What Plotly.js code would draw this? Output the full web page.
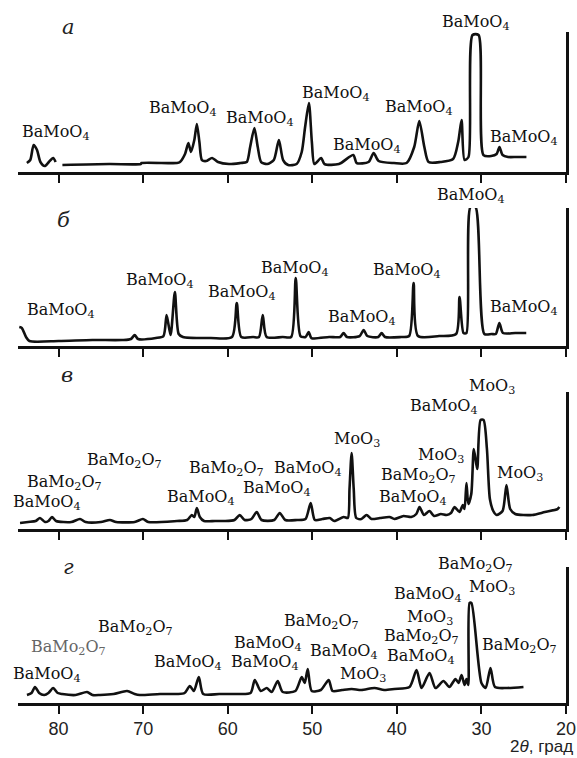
<!DOCTYPE html>
<html>
<head>
<meta charset="utf-8">
<script src="https://cdn.plot.ly/plotly-3.0.1.min.js"></script>
<style>html,body{margin:0;padding:0;background:#fff}#chart{width:577px;height:758px}</style>
</head>
<body>
<div id="chart"></div>
<script>
// ---- panel а ----
const thetaA = [83.75,83.35,82.95,82.55,82.15,81.65,81.15,80.65,80.35,80.0,79.55,74.0,70.3,70.2,66.0,65.65,65.05,64.65,64.35,63.95,63.65,63.35,63.05,62.55,61.85,61.15,59.85,58.5,57.75,57.35,56.85,56.45,56.05,55.35,54.55,53.95,53.45,52.85,51.85,51.25,50.85,50.4,50.05,49.75,48.95,48.55,46.85,45.15,44.75,43.35,42.75,42.15,40.35,38.85,37.95,37.35,36.75,36.25,34.85,33.35,32.75,32.35,32.0,31.53,31.05,30.34,29.76,28.85,28.2,27.87,27.5,26.85,25.85,24.68];
const intensA = [9,12,27,22,10,6,10,14,10,null,7,8,8,9,9,10,18,29,20,32,48,30,12,11,14,10,8,9,10,25,44,25,10,8,12,32,12,7,8,20,45,69,30,8,14,8,8,17,9,10,19,11,9,9,25,51,25,10,10,13,30,52,12,15,137,137,17,16,18,25,17,15,15,15];
const labA = ["BaMoO<sub>4</sub>","BaMoO<sub>4</sub>","BaMoO<sub>4</sub>","BaMoO<sub>4</sub>","BaMoO<sub>4</sub>","BaMoO<sub>4</sub>","BaMoO<sub>4</sub>","BaMoO<sub>4</sub>"];
const labAx = [80.31,65.31,56.21,47.24,43.58,37.43,30.7,24.91];
const labAy = [40,64,54,79,27,65,149,35];

// ---- panel б ----
const thetaB = [84.65,84.35,83.85,83.45,80.0,76.0,72.5,71.45,71.0,70.6,68.5,67.6,67.23,66.76,66.25,65.8,65.3,62.0,59.5,58.93,58.4,57.0,56.3,55.86,55.4,53.5,52.5,51.96,51.4,50.8,50.43,50.1,48.0,46.7,46.3,45.9,44.4,43.93,43.5,42.2,41.8,41.4,39.5,38.55,38.02,37.5,35.0,33.0,32.59,32.12,31.77,31.3,30.7,29.65,28.8,28.3,27.88,27.45,26.0,24.7];
const intensB = [19,18,9,5,5,6,6,7,11,7,8,10,31,11,54,12,9,8,9,43,9,9,9,31,9,9,9,68,10,9,14,8,9,9,13,9,10,16,10,9,13,9,9,10,63,10,10,12,49,13,13,139,139,12,12,12,23,13,13,13];
const labB = ["BaMoO<sub>4</sub>","BaMoO<sub>4</sub>","BaMoO<sub>4</sub>","BaMoO<sub>4</sub>","BaMoO<sub>4</sub>","BaMoO<sub>4</sub>","BaMoO<sub>4</sub>","BaMoO<sub>4</sub>"];
const labBx = [79.71,68.02,58.34,52.08,44.17,38.85,31.18,24.91];
const labBy = [36,66,54,78,29,76,151,39];

// ---- panel в ----
const thetaC = [84.56,83.6,82.7,82.2,81.6,81.2,80.78,80.3,78.5,77.47,76.8,75.0,73.93,73.2,71.0,70.03,69.4,66.0,64.8,64.24,63.95,63.65,63.3,62.8,61.5,60.5,59.2,58.58,58.0,57.2,56.57,56.0,54.5,53.85,53.2,51.8,50.8,50.19,49.7,48.8,47.94,47.4,46.29,45.8,45.6,45.35,45.1,44.8,44.2,43.58,43.0,42.0,40.86,40.3,39.21,38.3,37.7,37.32,36.8,36.14,35.6,34.8,34.13,33.6,33.18,32.6,32.2,32.0,31.77,31.55,31.2,30.9,30.5,30.1,29.75,29.35,29.0,28.6,28.2,27.5,27.04,26.6,26.0,24.0,22.5,21.0,20.78];
const intensC = [6,7,8,11,7,8,12,8,7,10,7,7,9,7,7,10,7,8,9,14,12,21,12,8,8,8,9,14,9,10,17,9,9,16,9,9,10,26,9,10,11,8,12,11,40,76,40,11,10,14,10,11,12,10,13,12,15,22,14,18,13,15,14,16,22,17,24,20,46,25,35,80,60,109,109,80,30,18,14,18,44,20,15,14,17,20,22];
const labC = ["BaMoO<sub>4</sub>","BaMo<sub>2</sub>O<sub>7</sub>","BaMo<sub>2</sub>O<sub>7</sub>","BaMoO<sub>4</sub>","BaMo<sub>2</sub>O<sub>7</sub>","BaMoO<sub>4</sub>","BaMoO<sub>4</sub>","MoO<sub>3</sub>","MoO<sub>3</sub>","BaMo<sub>2</sub>O<sub>7</sub>","BaMoO<sub>4</sub>","BaMoO<sub>4</sub>","MoO<sub>3</sub>","MoO<sub>3</sub>"];
const labCx = [81.36,79.36,72.15,63.18,60.11,54.2,50.54,44.76,34.84,37.43,38.14,34.37,28.7,25.39];
const labCy = [27,47,69,32,61,41,61,89,73,54,32,122,142,56];

// ---- panel г ----
const thetaD = [83.74,83.2,82.79,82.3,81.7,81.2,80.64,80.1,79.58,78.0,76.63,76.0,75.1,73.5,71.9,71.0,70.4,68.0,66.0,65.1,64.48,64.0,63.42,62.9,61.0,59.0,57.3,56.8,56.1,55.38,54.8,54.09,53.5,52.0,51.25,50.9,50.54,50.07,49.0,48.06,47.6,46.5,45.35,44.2,42.64,41.5,40.3,38.5,37.67,37.08,36.14,35.43,34.49,33.8,33.07,32.7,32.35,32.0,31.77,31.55,31.4,31.18,30.0,29.5,28.93,28.4,27.0,25.03];
const intensD = [8,10,16,10,8,10,15,10,9,8,11,8,8,9,12,9,8,9,9,10,17,12,26,9,9,9,10,23,12,15,11,22,11,12,26,20,34,12,13,23,12,13,14,13,15,13,14,16,33,15,30,15,22,16,24,20,28,18,24,18,100,100,20,15,35,16,15,16];
const labD = ["BaMoO<sub>4</sub>","BaMo<sub>2</sub>O<sub>7</sub>","BaMo<sub>2</sub>O<sub>7</sub>","BaMoO<sub>4</sub>","BaMoO<sub>4</sub>","BaMoO<sub>4</sub>","BaMo<sub>2</sub>O<sub>7</sub>","BaMoO<sub>4</sub>","MoO<sub>3</sub>","BaMoO<sub>4</sub>","BaMo<sub>2</sub>O<sub>7</sub>","MoO<sub>3</sub>","BaMoO<sub>4</sub>","BaMo<sub>2</sub>O<sub>7</sub>","MoO<sub>3</sub>","BaMo<sub>2</sub>O<sub>7</sub>"];
const labDx = [81.36,78.88,70.85,64.7,55.62,55.27,48.89,46.3,44.06,37.2,37.08,36.14,36.26,30.7,28.7,25.5];
const labDy = [28,55,75,40,40,59,81,51,28,46,66,85,108,138,115,57];

const panelNames = ["а","б","в","г"];
const panelNameX = [78.79,79.38,79.03,78.79];
const panelNameY = [145,126,154,136];
const tickVals = [80,70,60,50,40,30,20];
const xTitle = "2<i>θ</i>, град";

const panels = [
  {t:thetaA, v:intensA, lt:labA, lx:labAx, ly:labAy, dom:[0.7553,0.9545], top:140},
  {t:thetaB, v:intensB, lt:labB, lx:labBx, ly:labBy, dom:[0.5078,0.7041], top:138},
  {t:thetaC, v:intensC, lt:labC, lx:labCx, ly:labCy, dom:[0.2475,0.4424], top:137},
  {t:thetaD, v:intensD, lt:labD, lx:labDx, ly:labDy, dom:[0.0,0.1935], top:136}
];

const data = [];
const annotations = [];
const layout = {
  width:577, height:758,
  margin:{l:18, r:11, t:0, b:55},
  paper_bgcolor:'#ffffff', plot_bgcolor:'#ffffff',
  showlegend:false,
  font:{family:'DejaVu Serif', color:'#111'}
};

panels.forEach((p,i)=>{
  const n = i===0 ? '' : String(i+1);
  // convert an intensity value of this panel into paper y (so labels above the range stay visible)
  const toPaper = v => p.dom[0] + v / p.top * (p.dom[1] - p.dom[0]);
  data.push({x:p.t, y:p.v, xaxis:'x'+n, yaxis:'y'+n, type:'scatter', mode:'lines',
    line:{color:'#111', width:2.6, shape:'spline', smoothing:0.7}, connectgaps:false, cliponaxis:false, hoverinfo:'skip'});
  layout['xaxis'+n] = {
    range:[84.8,20], domain:[0,1], anchor:'y'+n,
    showline:true, linecolor:'#111', linewidth:2.5,
    ticks:'outside', ticklen:8, tickwidth:2, tickcolor:'#111',
    tickvals:tickVals, ticktext:tickVals.map(String),
    showticklabels: i===3,
    tickfont:{family:'Liberation Sans', size:18, color:'#222'},
    showgrid:false, zeroline:false
  };
  layout['yaxis'+n] = {
    range:[0,p.top], domain:p.dom, anchor:'x'+n, side:'right',
    showline:true, linecolor:'#111', linewidth:2.5,
    showticklabels:false, ticks:'', showgrid:false, zeroline:false
  };
  p.lt.forEach((txt,k)=>{
    annotations.push({x:p.lx[k], y:toPaper(p.ly[k]), xref:'x'+n, yref:'paper', text:txt,
      showarrow:false, xanchor:'center', yanchor:'middle',
      font:{family:'DejaVu Serif', size:16, color:(i===3&&k===1)?'#666':'#111'}});
  });
  annotations.push({x:panelNameX[i], y:toPaper(panelNameY[i]), xref:'x'+n, yref:'paper',
    text:'<i>'+panelNames[i]+'</i>', showarrow:false, xanchor:'center', yanchor:'middle',
    font:{family:'DejaVu Serif', size:21, color:'#222'}});
});

annotations.push({x:1.0164, y:-0.062, xref:'paper', yref:'paper', text:xTitle,
  showarrow:false, xanchor:'right', yanchor:'middle',
  font:{family:'Liberation Sans', size:17, color:'#222'}});
layout.annotations = annotations;

Plotly.newPlot('chart', data, layout, {staticPlot:true, displayModeBar:false});
</script>
</body>
</html>
